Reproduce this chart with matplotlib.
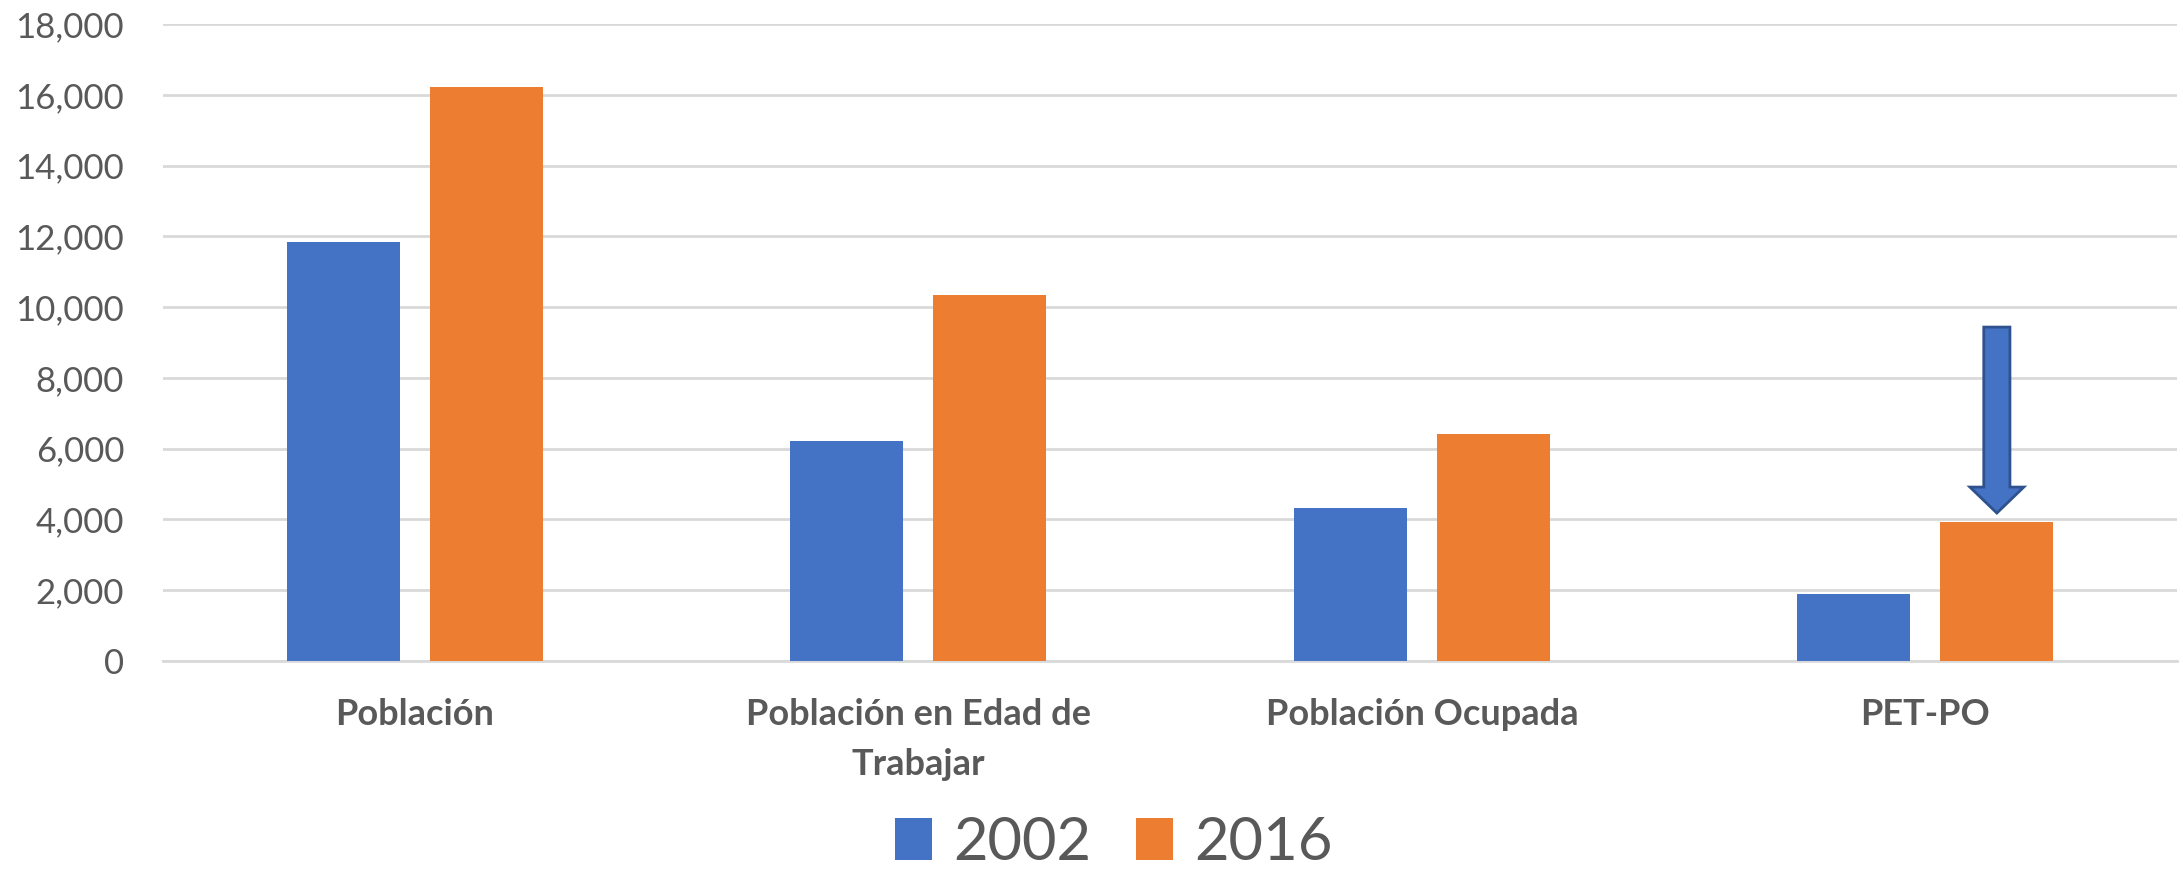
import matplotlib.pyplot as plt
import numpy as np

# Data (thousands of people)
categories = ['Población', 'Población en Edad de\nTrabajar', 'Población Ocupada', 'PET-PO']
years = ['2002', '2016']
values_2002 = [11850, 6220, 4320, 1890]
values_2016 = [16220, 10340, 6410, 3930]
yticks = [0, 2000, 4000, 6000, 8000, 10000, 12000, 14000, 16000, 18000]

blue = '#4472C4'
orange = '#ED7D31'
text_color = '#595959'
grid_color = '#D9D9D9'

plt.rcParams['font.family'] = ['Lato', 'DejaVu Sans']

fig = plt.figure(figsize=(21.83, 8.72), dpi=100)
ax = fig.add_axes([0.0747, 0.242, 0.9226, 0.7305])

x = np.arange(len(categories))
width = 0.2245
offset = 0.142
bars1 = ax.bar(x - offset, values_2002, width, color=blue, label=years[0], zorder=3)
bars2 = ax.bar(x + offset, values_2016, width, color=orange, label=years[1], zorder=3)

# arrow pointing at the PET-PO 2016 bar
tip_x = x[-1] + offset
tip_y = values_2016[-1] + 250
ax.arrow(tip_x, 9435, 0, tip_y - 9435, width=0.052, head_width=0.107,
         head_length=734, length_includes_head=True,
         facecolor=blue, edgecolor='#2F528F', linewidth=2, zorder=4)

ax.set_xlim(-0.5, len(categories) - 0.5)
ax.set_ylim(0, 18000)
ax.set_yticks(yticks)
ax.set_yticklabels([f'{v:,}' for v in yticks], fontsize=25, color=text_color)
ax.set_xticks(x)
ax.set_xticklabels(categories, fontsize=26, fontweight='bold', color=text_color,
                   linespacing=1.6, va='top')
ax.tick_params(axis='y', length=0, pad=28)
ax.tick_params(axis='x', length=0, pad=27)

ax.grid(axis='y', color=grid_color, linewidth=2, zorder=0)
for s in ['top', 'right', 'left']:
    ax.spines[s].set_visible(False)
ax.spines['bottom'].set_color(grid_color)
ax.spines['bottom'].set_linewidth(2)

fig.legend(handles=[bars1, bars2], labels=years, loc='center',
           bbox_to_anchor=(1114 / 2183, 1 - 843 / 872), ncol=2, frameon=False,
           fontsize=43, labelcolor=text_color, handlelength=0.62, handleheight=0.72,
           handletextpad=0.35, columnspacing=0.75, borderpad=0.1)

fig.savefig('out.png', dpi=100)
